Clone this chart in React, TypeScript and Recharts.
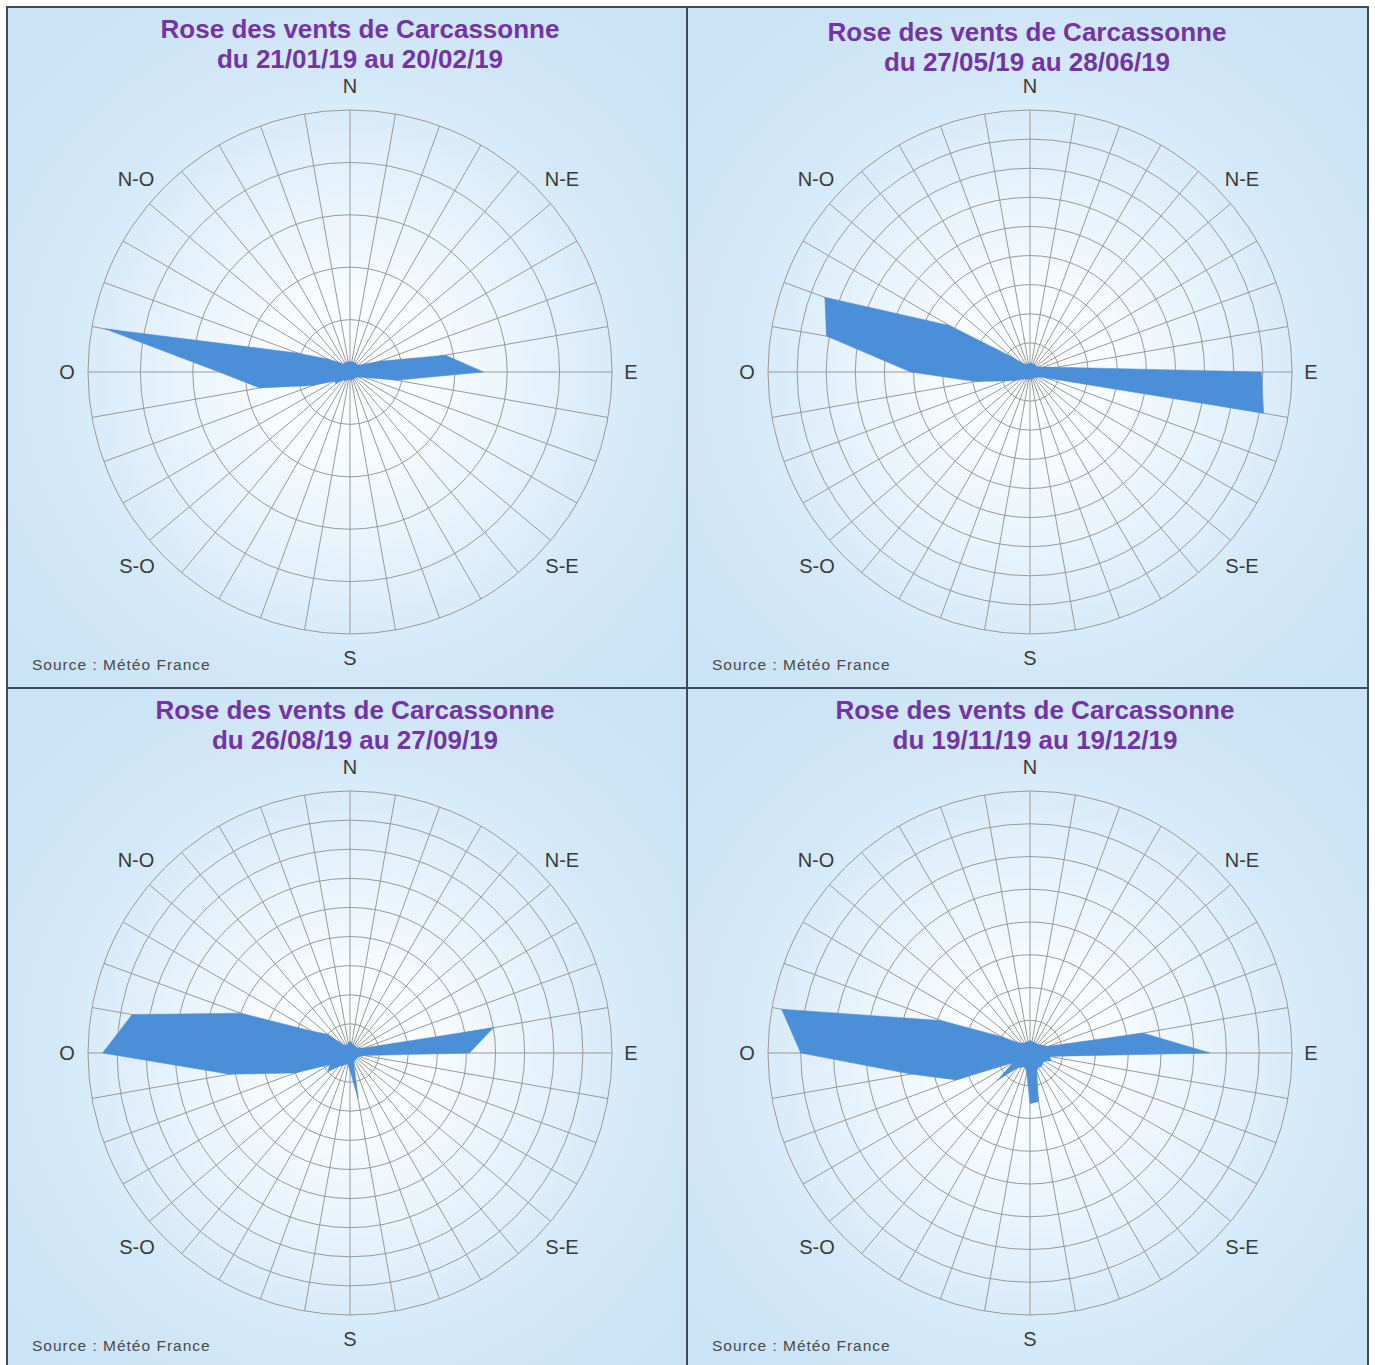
import React from "react";
import {
  RadarChart,
  Radar,
  PolarGrid,
  PolarAngleAxis,
  PolarRadiusAxis,
} from "recharts";

// wind directions, every 10 degrees, clockwise from north
const DIRECTIONS = [
  "0", "10", "20", "30", "40", "50", "60", "70", "80",
  "90", "100", "110", "120", "130", "140", "150", "160", "170",
  "180", "190", "200", "210", "220", "230", "240", "250", "260",
  "270", "280", "290", "300", "310", "320", "330", "340", "350",
];

// frequencies, in grid-ring units
const JAN_FEB = [
  0.2, 0.2, 0.2, 0.2, 0.2, 0.2, 0.3, 0.6, 1.85,
  2.55, 0.9, 0.3, 0.2, 0.15, 0.15, 0.15, 0.15, 0.15,
  0.15, 0.15, 0.15, 0.2, 0.2, 0.35, 0.35, 0.75, 1.75,
  2.5, 4.75, 1.05, 0.5, 0.3, 0.2, 0.2, 0.2, 0.2,
];
const MAY_JUN = [
  0.3, 0.3, 0.3, 0.3, 0.3, 0.3, 0.35, 0.5, 0.95,
  7.95, 8.15, 0.6, 0.35, 0.3, 0.25, 0.25, 0.25, 0.25,
  0.25, 0.25, 0.25, 0.3, 0.3, 0.4, 0.6, 0.9, 1.9,
  4.1, 7.1, 7.5, 3.2, 0.8, 0.4, 0.3, 0.3, 0.3,
];
const AUG_SEP = [
  0.4, 0.35, 0.3, 0.3, 0.3, 0.3, 0.35, 0.5, 5.0,
  4.1, 0.5, 0.35, 0.3, 0.3, 0.3, 0.3, 0.4, 1.6,
  0.6, 0.4, 0.4, 0.5, 0.6, 1.0, 0.8, 2.0, 4.2,
  8.5, 7.6, 4.0, 1.5, 1.0, 0.4, 0.3, 0.3, 0.35,
];
const NOV_DEC = [
  0.4, 0.35, 0.35, 0.35, 0.35, 0.4, 0.45, 0.6, 3.5,
  5.5, 0.6, 0.7, 0.5, 0.5, 0.55, 0.5, 0.6, 1.5,
  1.55, 0.6, 0.45, 0.5, 0.6, 1.3, 0.6, 2.4, 3.7,
  7.0, 7.7, 2.9, 1.0, 0.5, 0.4, 0.35, 0.35, 0.35,
];

const COMPASS = ["N", "N-E", "E", "S-E", "S", "S-O", "O", "N-O"];
const COMPASS_OFFSETS = [
  [0, -286], [212, -193], [281, 0], [212, 194],
  [0, 286], [-213, 194], [-283, 0], [-214, -193],
];

const TITLE = "Rose des vents de Carcassonne";
const SOURCE = "Source : Météo France";

const PANELS = [
  { key: "p1", left: 8, top: 8, period: "du 21/01/19 au 20/02/19", values: JAN_FEB, rings: 5, titleX: 352, titleY: 6 },
  { key: "p2", left: 688, top: 8, period: "du 27/05/19 au 28/06/19", values: MAY_JUN, rings: 9, titleX: 339, titleY: 9 },
  { key: "p3", left: 8, top: 689, period: "du 26/08/19 au 27/09/19", values: AUG_SEP, rings: 9, titleX: 347, titleY: 6 },
  { key: "p4", left: 688, top: 689, period: "du 19/11/19 au 19/12/19", values: NOV_DEC, rings: 8, titleX: 347, titleY: 6 },
];

const W = 679;
const H = 679;
const CX = 342;
const CY = 364;
const FONT = "'Liberation Sans', Arial, sans-serif";
const BORDER = "#3d4b5a";

function WindRose({ panel }) {
  const data = DIRECTIONS.map((dir, i) => ({ dir, value: panel.values[i] }));

  return (
    <div
      style={{
        position: "absolute",
        left: panel.left,
        top: panel.top,
        width: W,
        height: H,
        overflow: "hidden",
        background: `radial-gradient(circle at ${CX}px ${CY}px, #ffffff 0px, #f6fbfe 90px, #e4f1fb 200px, #d4e9f8 290px, #cbe3f6 420px)`,
        fontFamily: FONT,
      }}
    >
      <div
        style={{
          position: "absolute",
          left: panel.titleX - 300,
          top: panel.titleY,
          width: 600,
          textAlign: "center",
          color: "#7434a6",
          fontWeight: "bold",
          fontSize: 26,
          lineHeight: "30px",
        }}
      >
        <div>{TITLE}</div>
        <div>{panel.period}</div>
      </div>

      <RadarChart
        width={W}
        height={H}
        data={data}
        cx={CX}
        cy={CY}
        outerRadius={262}
        margin={{ top: 0, right: 0, bottom: 0, left: 0 }}
      >
        <PolarGrid gridType="circle" stroke="#999999" strokeWidth={1} />
        <PolarAngleAxis dataKey="dir" tick={false} axisLine={false} />
        <PolarRadiusAxis
          domain={[0, panel.rings]}
          tickCount={panel.rings + 1}
          tick={false}
          axisLine={false}
        />
        <Radar
          dataKey="value"
          fill="#4a8fd8"
          fillOpacity={1}
          stroke="#4a8fd8"
          strokeWidth={0.5}
          dot={false}
          isAnimationActive={false}
        />
      </RadarChart>

      {COMPASS.map((label, i) => (
        <div
          key={label}
          style={{
            position: "absolute",
            left: CX + COMPASS_OFFSETS[i][0] - 40,
            top: CY + COMPASS_OFFSETS[i][1] - 9,
            width: 80,
            textAlign: "center",
            fontSize: 20,
            lineHeight: "18px",
            color: "#3a3a3a",
          }}
        >
          {label}
        </div>
      ))}

      <div
        style={{
          position: "absolute",
          left: 24,
          top: 647,
          fontSize: 15.5,
          lineHeight: "20px",
          letterSpacing: 1,
          color: "#4a4a4a",
        }}
      >
        {SOURCE}
      </div>
    </div>
  );
}

export default function App() {
  return (
    <div
      style={{
        position: "relative",
        width: 1375,
        height: 1365,
        overflow: "hidden",
        background: "#ffffff",
      }}
    >
      <style>{"body{margin:0}"}</style>
      {PANELS.map((p) => (
        <WindRose key={p.key} panel={p} />
      ))}
      {/* frame and dividers */}
      <div style={{ position: "absolute", left: 6, top: 6, width: 1363, height: 2, background: BORDER }} />
      <div style={{ position: "absolute", left: 6, top: 687, width: 1363, height: 2, background: BORDER }} />
      <div style={{ position: "absolute", left: 6, top: 6, width: 2, height: 1359, background: BORDER }} />
      <div style={{ position: "absolute", left: 686, top: 6, width: 2, height: 1359, background: BORDER }} />
      <div style={{ position: "absolute", left: 1367, top: 6, width: 2, height: 1359, background: BORDER }} />
    </div>
  );
}
